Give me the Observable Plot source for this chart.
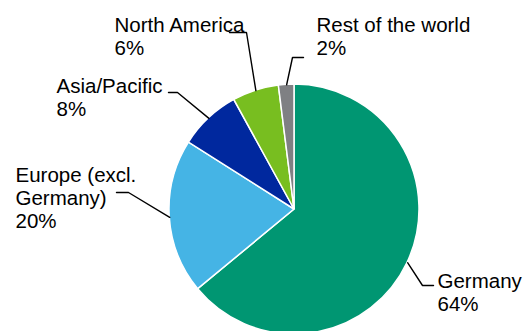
<!DOCTYPE html>
<html>
<head>
<meta charset="utf-8">
<script src="https://cdn.jsdelivr.net/npm/d3@7"></script>
<script src="https://cdn.jsdelivr.net/npm/@observablehq/plot@0.6"></script>
<style>
  html, body { margin: 0; padding: 0; background: #fff; }
  #chart { width: 523px; height: 331px; overflow: hidden; }
</style>
</head>
<body>
<div id="chart"></div>
<script>
// ---- Data ----
const regions = ["Germany", "Europe (excl.\nGermany)", "Asia/Pacific", "North America", "Rest of the world"];
const shares = [64, 20, 8, 6, 2];
const colors = ["#009672", "#45B4E5", "#00289E", "#78BE20", "#7F8083"];

// ---- Label layout (unit-circle coordinates, y up) ----
const labelElbow = [[1.024, -0.608], [-1.328, 0.136], [-0.936, 0.936], [-0.384, 1.416], [-0.016, 1.216]];
const labelEnd   = [[1.112, -0.608], [-1.424, 0.136], [-1.008, 0.936], [-0.52, 1.416], [0.072, 1.216]];
const labelText  = [[1.144, -0.808], [-2.232, -0.144], [-1.904, 0.752], [-1.44, 1.24], [0.176, 1.24]];

// ---- Build tables ----
const arcs = d3.pie().sort(null).value(d => d.share)(
  regions.map((name, i) => ({name, share: shares[i], color: colors[i], i}))
);

const leaders = arcs.flatMap(a => {
  const mid = (a.startAngle + a.endAngle) / 2;
  const i = a.data.i;
  return [
    {i, x: Math.sin(mid), y: Math.cos(mid)},
    {i, x: labelElbow[i][0], y: labelElbow[i][1]},
    {i, x: labelEnd[i][0], y: labelEnd[i][1]}
  ];
});

const labels = arcs.map(a => ({
  x: labelText[a.data.i][0],
  y: labelText[a.data.i][1],
  text: a.data.name + "\n" + a.data.share + "%"
}));

const cx = 294, cy = 209, R = 125;

function pieMark(index, scales) {
  const x0 = scales.x(0), y0 = scales.y(0);
  const r = scales.x(1) - scales.x(0);
  const arc = d3.arc().innerRadius(0).outerRadius(r);
  const g = d3.create("svg:g").attr("transform", `translate(${x0},${y0})`);
  g.selectAll("path")
    .data(arcs)
    .join("path")
    .attr("d", arc)
    .attr("fill", d => d.data.color)
    .attr("stroke", "#fff")
    .attr("stroke-width", 1.5)
    .attr("stroke-linejoin", "miter");
  return g.node();
}

const chart = Plot.plot({
  width: 523,
  height: 331,
  margin: 0,
  x: {domain: [-1, 1], range: [cx - R, cx + R], axis: null},
  y: {domain: [-1, 1], range: [cy + R, cy - R], axis: null},
  style: {background: "#fff", fontFamily: "'Liberation Sans', Arial, sans-serif", overflow: "hidden"},
  marks: [
    pieMark,
    Plot.line(leaders, {x: "x", y: "y", z: "i", stroke: "#000", strokeWidth: 1.4, strokeLinejoin: "miter"}),
    Plot.text(labels, {
      x: "x", y: "y", text: "text",
      textAnchor: "start", lineAnchor: "bottom",
      fontSize: 20.5, lineHeight: 1.12, fill: "#000"
    })
  ]
});

document.getElementById("chart").appendChild(chart);
</script>
</body>
</html>
